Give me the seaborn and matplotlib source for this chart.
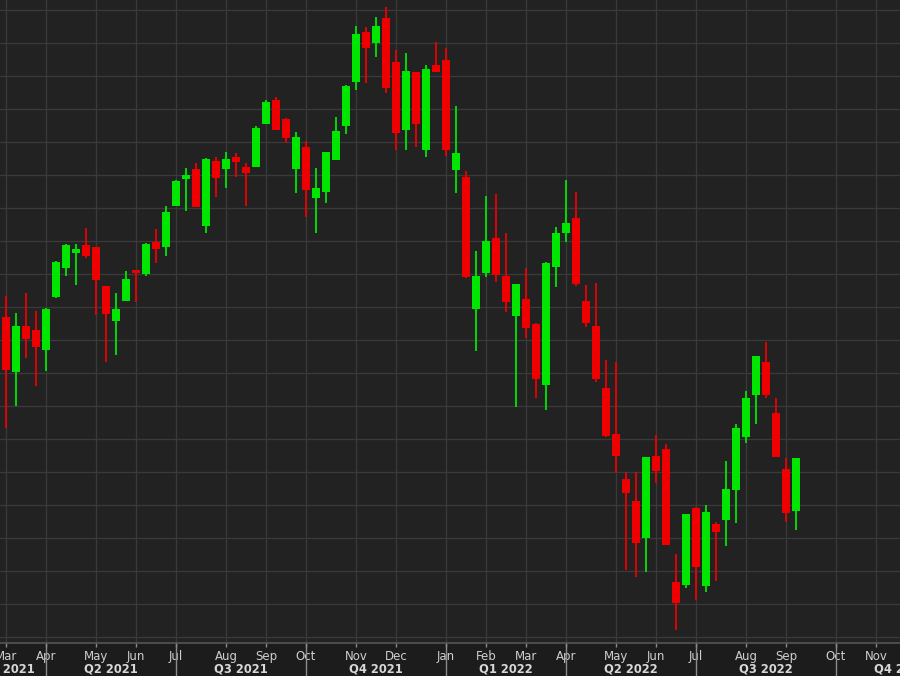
import numpy as np
import pandas as pd
import matplotlib
matplotlib.use('Agg')
import matplotlib.pyplot as plt
import seaborn as sns

# ------------------------------------------------------------
# Weekly candles, first week starting Mon 1 Mar 2021
# ------------------------------------------------------------
first_week = '2021-03-01'

opens = [13412, 12906, 13327, 13291, 13109, 13594, 13852, 13988, 14064, 14043,
         13694, 13376, 13555, 13836, 13800, 14088, 14048, 14418, 14661, 14755,
         14239, 14827, 14755, 14866, 14770, 14776, 15164, 15382, 15209, 14755,
         14957, 14494, 14543, 14836, 15146, 15543, 15997, 15897, 16130, 15725,
         15109, 15634, 14927, 15700, 15746, 14746, 14685, 13482, 13806, 14125,
         13782, 13421, 13573, 13346, 12791, 13861, 14176, 14312, 13555, 13327,
         12766, 12345, 11936, 11736, 11403, 12148, 12209, 10997, 10973, 11670,
         10964, 11527, 11564, 11836, 12316, 12700, 13003, 12539, 12027, 11646]

highs = [13600, 13446, 13630, 13466, 13491, 13918, 14073, 14073, 14216, 14048,
         13694, 13625, 13827, 13836, 14080, 14206, 14418, 14655, 14761, 14806,
         14852, 14861, 14906, 14897, 14806, 15148, 15382, 15412, 15221, 15094,
         15009, 14766, 14906, 15225, 15515, 16057, 16048, 16134, 16225, 15836,
         15806, 15634, 15700, 15912, 15857, 15327, 14739, 14012, 14509, 14525,
         14176, 13709, 13852, 13358, 13912, 14225, 14655, 14548, 13700, 13721,
         13018, 13003, 11997, 11997, 12139, 12336, 12255, 11255, 11618, 11685,
         11700, 11548, 12100, 12434, 12739, 13055, 13185, 12670, 12125, 12130]

lows = [12400, 12603, 13039, 12785, 12921, 13585, 13782, 13700, 13943, 13427,
        13003, 13064, 13555, 13548, 13782, 13900, 13966, 14418, 14373, 14412,
        14176, 14503, 14585, 14685, 14418, 14776, 15164, 15109, 14988, 14534,
        14316, 14176, 14443, 14836, 15073, 15473, 15539, 15776, 15448, 14927,
        14927, 14957, 14861, 15639, 14876, 14534, 13761, 13103, 13776, 13730,
        13457, 12594, 13221, 12670, 12564, 13679, 14094, 13691, 13321, 12821,
        12321, 11994, 11109, 11048, 11094, 11897, 11336, 10564, 10943, 10836,
        10912, 11012, 11330, 11534, 12266, 12436, 12675, 12139, 11543, 11473]

closes = [12927, 13327, 13209, 13139, 13485, 13912, 14064, 14025, 13966, 13746,
          13436, 13482, 13755, 13806, 14073, 14025, 14366, 14646, 14700, 14412,
          14846, 14676, 14846, 14821, 14716, 15130, 15366, 15109, 15039, 15048,
          14564, 14585, 14906, 15100, 15509, 15979, 15857, 16057, 15488, 15085,
          15646, 15164, 15664, 15639, 14927, 14897, 13776, 13782, 14103, 13791,
          13543, 13709, 13312, 12845, 13903, 14176, 14266, 13706, 13352, 12841,
          12330, 12146, 11806, 11357, 12139, 12009, 11336, 10806, 11618, 11139,
          11639, 11450, 11843, 12403, 12670, 13055, 12700, 12139, 11630, 12130]

# ------------------------------------------------------------
# Style
# ------------------------------------------------------------
BG_PLOT = '#222222'
BG_AXIS = '#1c1c1c'
GRID = '#3a3a3a'
UP = '#00e600'
DOWN = '#ee0000'

sns.set_theme(style='dark', rc={
    'axes.facecolor': BG_PLOT,
    'figure.facecolor': BG_AXIS,
})
plt.rcParams['font.family'] = ['DejaVu Sans']

df = pd.DataFrame({'open': opens, 'high': highs, 'low': lows, 'close': closes})
df['x'] = np.arange(len(df))
df['up'] = df['close'] >= df['open']
df['color'] = np.where(df['up'], UP, DOWN)
df['body_lo'] = df[['open', 'close']].min(axis=1)
df['body_h'] = (df['close'] - df['open']).abs().clip(lower=15)

x_left, x_right = -0.6, 89.4

fig = plt.figure(figsize=(9, 6.76), dpi=100)
ax = fig.add_axes([0, 33 / 676, 1, 643 / 676])

# wicks then bodies
ax.vlines(df['x'], df['low'], df['high'], colors=df['color'], lw=1.3, zorder=2)
ax.bar(df['x'], df['body_h'], bottom=df['body_lo'], width=0.78,
       color=df['color'], linewidth=0, zorder=3)

ax.set_xlim(x_left, x_right)
ax.set_ylim(10445, 16291)

# ------------------------------------------------------------
# Month / quarter axis (ticks snap to the first candle of each month)
# ------------------------------------------------------------
weeks = pd.date_range(first_week, periods=110, freq='W-MON')
fridays = weeks + pd.Timedelta(days=4)

month_pos, month_lab = [], []
for m in pd.date_range('2021-03-01', '2022-11-01', freq='MS'):
    idx = int(np.argmax(fridays >= m))
    month_pos.append(idx)
    month_lab.append(m.strftime('%b'))

q_starts = pd.date_range('2021-01-01', '2023-01-01', freq='QS')
q_idx = [int(np.argmax(fridays >= q)) if q >= weeks[0]
         else -int(np.ceil((weeks[0] - q).days / 7)) for q in q_starts]

ax.set_xticks(month_pos)
ax.set_xticklabels(month_lab)
ax.set_yticks(np.arange(10500, 16201, 300))
ax.tick_params(axis='x', length=3, width=1, color='#8a8a8a',
               labelcolor='#cfcfcf', labelsize=8.5, pad=2, bottom=True)
ax.tick_params(axis='y', length=0, labelleft=False)
ax.grid(True, color=GRID, lw=0.9)
ax.set_axisbelow(True)

for s in ['top', 'left', 'right']:
    ax.spines[s].set_visible(False)
ax.spines['bottom'].set_color('#555555')
ax.spines['bottom'].set_linewidth(1.2)

xt = ax.get_xaxis_transform()
axis_h = -33 / 643
for q, i0, i1 in zip(q_starts[:-1], q_idx[:-1], q_idx[1:]):
    if x_left < i0 < x_right:
        ax.plot([i0, i0], [0, axis_h], transform=xt, color='#8c8c8c',
                lw=1, clip_on=False, zorder=1)
    mid = max((i0 + i1) / 2, 0.15)
    ax.text(mid, -26 / 643, f'Q{(q.month - 1) // 3 + 1} {q.year}',
            transform=xt, ha='center', va='center', fontsize=8.3,
            fontweight='bold', color='#d8d8d8', clip_on=False)

fig.savefig('out.png', dpi=100, facecolor=BG_AXIS)
